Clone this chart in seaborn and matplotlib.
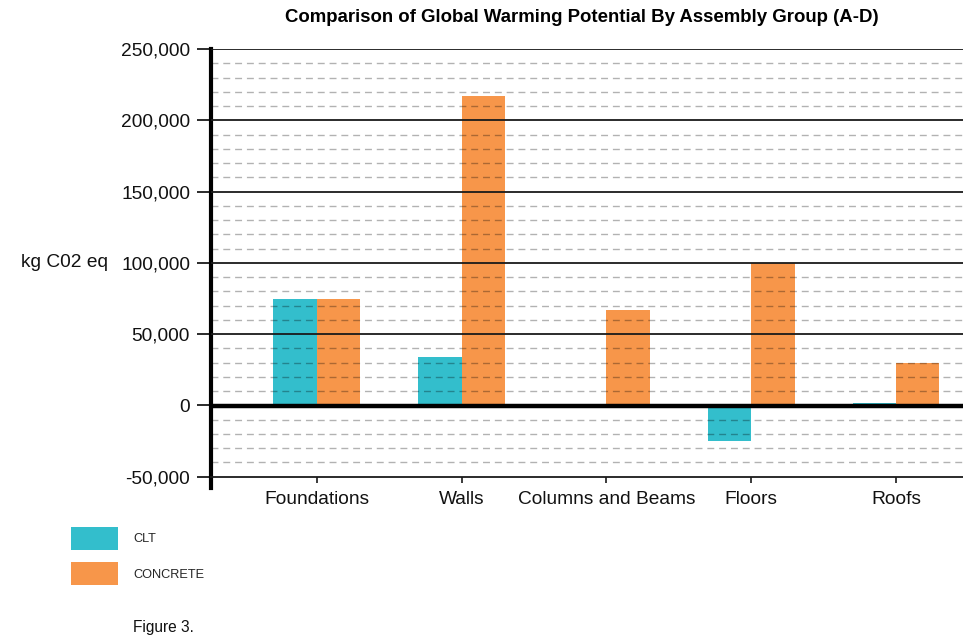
import matplotlib
matplotlib.use("Agg")
import matplotlib.pyplot as plt
from matplotlib.patches import Patch
from matplotlib.ticker import MultipleLocator, FuncFormatter
import seaborn as sns
import pandas as pd

# Global warming potential per assembly group, kg CO2 eq
groups = ["Foundations", "Walls", "Columns and Beams", "Floors", "Roofs"]
clt = [75000, 34000, 0, -25000, 2000]
concrete = [75000, 217000, 67000, 100000, 30000]
series = ["CLT", "CONCRETE"]
colors = ["#33BECC", "#F7964A"]

df = pd.DataFrame({
    "group": groups * 2,
    "material": [series[0]] * len(groups) + [series[1]] * len(groups),
    "gwp": clt + concrete,
})

sns.set_theme(style="white")
plt.rcParams["font.family"] = ["Liberation Sans", "DejaVu Sans"]

fig = plt.figure(figsize=(9.63, 6.38), dpi=100)
ax = fig.add_axes([0.219, 0.235, 0.781, 0.688])

sns.barplot(data=df, x="group", y="gwp", hue="material", order=groups,
            hue_order=series, palette=colors, width=0.6, saturation=1,
            linewidth=0, legend=False, ax=ax, zorder=2)

ax.set_xlim(-0.732, 4.463)
ax.set_ylim(-58000, 250000)

# minor dashed grid every 10,000 and solid major grid every 50,000, over the bars
ax.yaxis.set_major_locator(MultipleLocator(50000))
ax.yaxis.set_minor_locator(MultipleLocator(10000))
ax.grid(False)
for v in range(-40000, 250000, 10000):
    if v % 50000:
        ax.axhline(v, color="black", alpha=0.3, lw=1.0, ls=(0, (5, 3.5)), zorder=3)
for v in range(50000, 250001, 50000):
    ax.axhline(v, color="#1a1a1a", lw=1.3, zorder=3)
ax.axhline(-700, color="black", lw=3.2, zorder=4)

ax.yaxis.set_major_formatter(FuncFormatter(lambda v, p: f"{int(v):,}"))
ax.tick_params(axis="y", which="major", left=True, length=10, width=1.3,
               color="#1a1a1a", pad=5, labelsize=13.8, labelcolor="#111111")
ax.tick_params(axis="y", which="minor", left=False)
ax.tick_params(axis="x", bottom=True, length=4, width=1.2, color="#1a1a1a",
               pad=6, labelsize=13.8, labelcolor="#111111")

for s in ["top", "right"]:
    ax.spines[s].set_visible(False)
ax.spines["left"].set_linewidth(3)
ax.spines["left"].set_color("black")
ax.spines["bottom"].set_position(("data", -50000))
ax.spines["bottom"].set_linewidth(1.3)
ax.spines["bottom"].set_color("#1a1a1a")
ax.spines["bottom"].set_zorder(4)

ax.set_xlabel("")
ax.set_ylabel("")
fig.text(0.022, 0.588, "kg C02 eq", ha="left", va="center", fontsize=13.8,
         color="#111111")

fig.text(0.604, 0.972, "Comparison of Global Warming Potential By Assembly Group (A-D)",
         ha="center", va="center", fontsize=13.4, fontweight="bold", color="black")

handles = [Patch(facecolor=c, edgecolor="none", label=s) for c, s in zip(colors, series)]
fig.legend(handles=handles, loc="upper left", bbox_to_anchor=(0.062, 0.192),
           frameon=False, handlelength=3.7, handleheight=2.4, handletextpad=1.2,
           labelspacing=0.95, fontsize=9.2)

fig.text(0.138, 0.016, "Figure 3.", ha="left", va="center", fontsize=11.2,
         color="#111111")

fig.savefig("out.png", dpi=100)
